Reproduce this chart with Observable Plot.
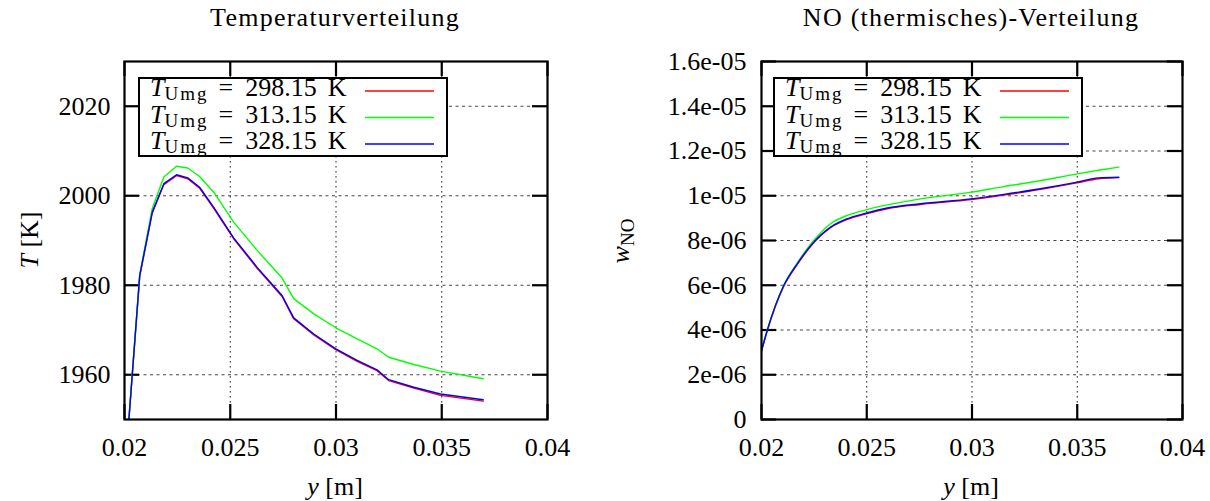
<!DOCTYPE html>
<html>
<head>
<meta charset="utf-8">
<script src="https://cdn.jsdelivr.net/npm/d3@7"></script>
<script src="https://cdn.jsdelivr.net/npm/@observablehq/plot@0.6"></script>
<style>
  body { margin: 0; background: #fff; }
  #wrap { position: relative; width: 1210px; height: 501px; color: #000; overflow: hidden; }
  .panel { position: absolute; top: 0; width: 605px; height: 501px; }
  .txt { position: absolute; line-height: 30px; white-space: nowrap; text-align: center; }
  .title { letter-spacing: 1.25px; }
  .legend { position: absolute; box-sizing: border-box; width: 310px; height: 80px; border: 2px solid #000; background: #fff; }
  .row { position: absolute; left: 10px; line-height: 26.5px; white-space: nowrap; }
  .row .sub { position: relative; top: 4px; letter-spacing: 2px; }
  .row .eq { margin: 0 12px 0 10px; }
  .row .k { margin-left: 11px; }
  .sample { position: absolute; }
</style>
</head>
<body>
<div id="wrap"></div>
<script>
// ---------- data ----------
const seriesNames = ["298.15", "313.15", "328.15"];
const seriesColors = ["#ff0000", "#00ff00", "#0000ff"];

const xTicks = [0.02, 0.025, 0.03, 0.035, 0.04];
const xTickLabels = ["0.02", "0.025", "0.03", "0.035", "0.04"];

const tempTicks = [1960, 1980, 2000, 2020];
const tempTickLabels = ["1960", "1980", "2000", "2020"];

const noTicks = [0, 2e-6, 4e-6, 6e-6, 8e-6, 1e-5, 1.2e-5, 1.4e-5, 1.6e-5];
const noTickLabels = ["0", "2e-06", "4e-06", "6e-06", "8e-06", "1e-05", "1.2e-05", "1.4e-05", "1.6e-05"];

// Temperature distribution
const tempX = [0.0200, 0.02072, 0.02131, 0.02186, 0.02246, 0.02299, 0.02355, 0.02422, 0.02516, 0.02627,
               0.02745, 0.02800, 0.02895, 0.02999, 0.03100, 0.03194, 0.03249, 0.03368, 0.03494, 0.03696];
const temp298 = [1937, 1982.0, 1996.1, 2002.5, 2004.5, 2003.8, 2001.7, 1997.2, 1990.4, 1983.8,
                 1977.5, 1972.5, 1968.9, 1965.6, 1963.0, 1960.9, 1958.7, 1957.0, 1955.4, 1954.1];
const temp313 = [1937, 1982.4, 1997.1, 2004.2, 2006.6, 2006.2, 2004.3, 2000.8, 1994.1, 1987.8,
                 1981.6, 1977.0, 1973.6, 1970.5, 1968.0, 1965.8, 1963.9, 1962.3, 1960.8, 1959.1];
const temp328 = [1937, 1982.2, 1996.3, 2002.7, 2004.7, 2004.0, 2001.9, 1997.4, 1990.6, 1984.0,
                 1977.7, 1972.7, 1969.1, 1965.8, 1963.2, 1961.1, 1958.9, 1957.2, 1955.7, 1954.4];

// NO (thermal) distribution
const noX = [0.0200, 0.02027, 0.02106, 0.0217, 0.02241, 0.02328, 0.02407, 0.02497, 0.02597, 0.02755,
             0.02996, 0.03151, 0.0331, 0.0350, 0.03602, 0.03697];
const no298 = [3.05e-6, 3.95e-6, 5.96e-6, 6.93e-6, 7.82e-6, 8.57e-6, 8.94e-6, 9.19e-6, 9.42e-6, 9.61e-6,
               9.83e-6, 10.03e-6, 10.26e-6, 10.58e-6, 10.76e-6, 10.81e-6];
const no313 = [3.08e-6, 3.98e-6, 6.00e-6, 7.00e-6, 7.92e-6, 8.75e-6, 9.12e-6, 9.37e-6, 9.59e-6, 9.86e-6,
               10.16e-6, 10.41e-6, 10.65e-6, 10.98e-6, 11.14e-6, 11.28e-6];
const no328 = [3.08e-6, 3.98e-6, 5.99e-6, 6.96e-6, 7.85e-6, 8.60e-6, 8.97e-6, 9.22e-6, 9.45e-6, 9.64e-6,
               9.86e-6, 10.06e-6, 10.29e-6, 10.61e-6, 10.80e-6, 10.83e-6];

// ---------- font choice ----------
function hasFont(name) {
  const c = document.createElement("canvas").getContext("2d");
  const s = "Temperaturverteilung 0123456789";
  c.font = "40px monospace"; const a = c.measureText(s).width;
  c.font = `40px "${name}", monospace`; const b = c.measureText(s).width;
  return Math.abs(a - b) > 0.5;
}
let FAMILY, FS;
if (hasFont("Liberation Serif")) { FAMILY = "Liberation Serif"; FS = 26; }
else if (hasFont("DejaVu Serif")) { FAMILY = "DejaVu Serif"; FS = 21; }
else { FAMILY = "serif"; FS = 22; }
const FONT = FAMILY + ", serif";
const SUB = Math.round(FS * 0.72);
document.getElementById("wrap").style.fontFamily = FONT;
document.getElementById("wrap").style.fontSize = FS + "px";

// ---------- drawing ----------
const W = 605, H = 501, MT = 61, MB = 82;

function makePanel({xs, ys, yDomain, yTicks, yTickLabels, marginLeft, marginRight, yPad, curve}) {
  const data = [];
  ys.forEach((vals, s) => xs.forEach((x, i) => data.push({x, y: vals[i], key: seriesNames[s]})));
  const frameH = H - MT - MB;
  const frameW = W - marginLeft - marginRight;
  const tl = 15;
  const inner = yTicks.filter(t => t > yDomain[0] && t < yDomain[1]);
  const svg = Plot.plot({
    width: W, height: H,
    marginTop: MT, marginBottom: MB, marginLeft, marginRight,
    x: {domain: [0.02, 0.04]},
    y: {domain: yDomain},
    color: {domain: seriesNames, range: seriesColors},
    style: {fontFamily: FONT, fontSize: FS + "px", background: "transparent", color: "#000"},
    marks: [
      Plot.ruleX(xTicks.slice(1, -1), {stroke: "#222", strokeWidth: 1, strokeDasharray: "1.6,3.4"}),
      Plot.ruleY(inner, {stroke: "#444", strokeWidth: 1, strokeDasharray: "3,3.5"}),
      Plot.tickX(xTicks, {x: d => d, insetTop: frameH - tl, stroke: "#000", strokeWidth: 2.2}),
      Plot.tickX(xTicks, {x: d => d, insetBottom: frameH - tl, stroke: "#000", strokeWidth: 2.2}),
      Plot.tickY(yTicks, {y: d => d, insetRight: frameW - tl, stroke: "#000", strokeWidth: 2.2}),
      Plot.tickY(yTicks, {y: d => d, insetLeft: frameW - tl, stroke: "#000", strokeWidth: 2.2}),
      Plot.line(data, {x: "x", y: "y", z: "key", stroke: "key", strokeWidth: 1.4, clip: true, curve}),
      Plot.frame({stroke: "#000", strokeWidth: 2.2}),
      Plot.axisX({ticks: xTicks, tickFormat: d => xTickLabels[xTicks.indexOf(d)], tickSize: 0,
                  tickPadding: 36 - 0.71 * FS, label: null, fontFamily: FONT, fontSize: FS}),
      Plot.axisY({ticks: yTicks, tickFormat: d => yTickLabels[yTicks.indexOf(d)], tickSize: 0,
                  tickPadding: yPad, label: null, fontFamily: FONT, fontSize: FS})
    ]
  });
  svg.querySelectorAll("text").forEach(t => { t.style.fontFamily = FONT; });
  return svg;
}

const wrap = document.getElementById("wrap");

function addPanel(left, svg) {
  const d = document.createElement("div");
  d.className = "panel";
  d.style.left = left + "px";
  d.appendChild(svg);
  wrap.appendChild(d);
}

addPanel(0, makePanel({
  xs: tempX, ys: [temp298, temp313, temp328], yDomain: [1950, 2030],
  yTicks: tempTicks, yTickLabels: tempTickLabels, marginLeft: 124, marginRight: 58, yPad: 14, curve: "linear"
}));
addPanel(605, makePanel({
  xs: noX, ys: [no298, no313, no328], yDomain: [0, 1.6e-5],
  yTicks: noTicks, yTickLabels: noTickLabels, marginLeft: 156, marginRight: 28, yPad: 15, curve: "monotone-x"
}));

function addText(html, cx, cy, rotate, cls) {
  const d = document.createElement("div");
  d.className = "txt " + (cls || "");
  d.innerHTML = html;
  d.style.width = "400px";
  d.style.left = (cx - 200) + "px";
  d.style.top = (cy - 15) + "px";
  if (rotate) d.style.transform = "rotate(-90deg)";
  wrap.appendChild(d);
}

addText("Temperaturverteilung", 335, 18, false, "title");
addText("NO (thermisches)-Verteilung", 971, 18, false, "title");
addText("<i>y</i> [m]", 335, 487);
addText("<i>y</i> [m]", 971, 487);
addText("<i>T</i> [K]", 30, 240, true);
addText(`<i>w</i><span style='font-size:${SUB}px;position:relative;top:5px'>NO</span>`, 622, 240, true);

function addLegend(left, sampleLeft) {
  const box = document.createElement("div");
  box.className = "legend";
  box.style.left = left + "px";
  box.style.top = "77px";
  seriesNames.forEach((name, i) => {
    const r = document.createElement("div");
    r.className = "row";
    r.style.top = (-4 + i * 26.5 + (26 - FS) * 0.4) + "px";
    r.innerHTML = `<i>T</i><span class='sub' style='font-size:${SUB}px'>Umg</span><span class='eq'>=</span>${name}<span class='k'>K</span>`;
    box.appendChild(r);
  });
  const ns = "http://www.w3.org/2000/svg";
  const svg = document.createElementNS(ns, "svg");
  svg.setAttribute("class", "sample");
  svg.setAttribute("width", 80);
  svg.setAttribute("height", 76);
  svg.style.left = (sampleLeft - left - 2) + "px";
  svg.style.top = "0px";
  seriesNames.forEach((name, i) => {
    const l = document.createElementNS(ns, "line");
    const y = 12 + i * 26.5;
    l.setAttribute("x1", 0); l.setAttribute("x2", 69);
    l.setAttribute("y1", y); l.setAttribute("y2", y);
    l.setAttribute("stroke", seriesColors[i]);
    l.setAttribute("stroke-width", 1.4);
    svg.appendChild(l);
  });
  box.appendChild(svg);
  wrap.appendChild(box);
}
addLegend(138, 365);
addLegend(773, 1000);
</script>
</body>
</html>
